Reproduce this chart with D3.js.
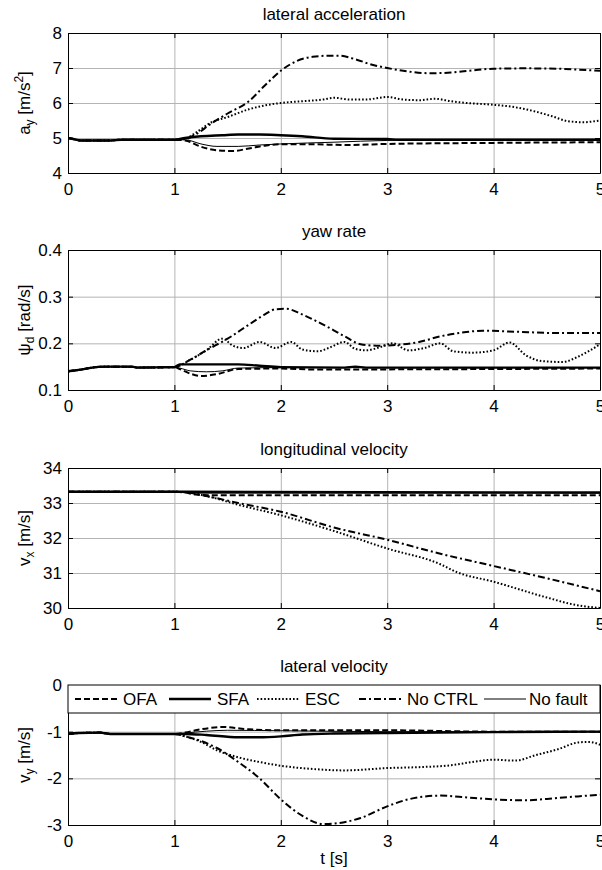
<!DOCTYPE html>
<html>
<head>
<meta charset="utf-8">
<script src="https://cdn.jsdelivr.net/npm/d3@7"></script>
<style>
  body { margin: 0; background: #fff; }
  svg { font-family: "Liberation Sans", Arial, sans-serif; display: block; }
</style>
</head>
<body>
<svg id="chart" width="602" height="870"></svg>
<script>
// time axis ticks shared by all panels
const timeTicks = [0, 1, 2, 3, 4, 5];

// lateral acceleration [m/s^2]
const ayTicks = [4, 5, 6, 7, 8];
const ayBase = [[0,5.0],[0.05,4.97],[0.12,4.93],[0.4,4.93],[0.5,4.95],[1.0,4.95]];
const ayOFA = [[1.1,4.93],[1.25,4.75],[1.4,4.65],[1.55,4.63],[1.7,4.7],[1.85,4.78],[2.0,4.82],[2.3,4.82],[2.6,4.8],[3.0,4.83],[4.0,4.86],[5.0,4.88]];
const aySFA = [[1.1,5.0],[1.25,5.05],[1.45,5.08],[1.6,5.1],[1.8,5.1],[2.0,5.08],[2.2,5.05],[2.5,4.98],[3.0,4.97],[3.1,4.95],[5.0,4.95]];
const ayESC = [[1.1,4.98],[1.2,5.15],[1.35,5.45],[1.5,5.6],[1.7,5.82],[1.85,5.93],[2.0,6.0],[2.2,6.05],[2.4,6.1],[2.5,6.15],[2.65,6.1],[2.8,6.1],[3.0,6.17],[3.15,6.1],[3.3,6.08],[3.45,6.12],[3.6,6.05],[3.75,6.0],[4.0,5.95],[4.2,5.88],[4.4,5.75],[4.55,5.62],[4.7,5.48],[4.85,5.45],[4.95,5.48],[5.0,5.5]];
const ayNoCtrl = [[1.1,4.97],[1.2,5.1],[1.34,5.4],[1.5,5.7],[1.7,6.05],[1.85,6.5],[2.0,6.92],[2.15,7.2],[2.3,7.32],[2.45,7.35],[2.55,7.35],[2.7,7.25],[2.85,7.1],[3.0,7.0],[3.2,6.9],[3.4,6.85],[3.6,6.87],[3.8,6.93],[4.0,6.98],[4.3,6.99],[4.6,6.98],[4.8,6.95],[5.0,6.92]];
const ayNoFault = [[1.1,4.95],[1.25,4.83],[1.4,4.76],[1.6,4.76],[1.8,4.8],[2.0,4.83],[2.5,4.88],[3.0,4.93],[4.0,4.95],[5.0,4.96]];

// yaw rate [rad/s]
const yawTicks = [0.1, 0.2, 0.3, 0.4];
const yawBase = [[0,0.14],[0.1,0.143],[0.2,0.147],[0.35,0.15],[0.6,0.15],[0.65,0.148],[1.0,0.149]];
const yawOFA = [[1.05,0.145],[1.15,0.135],[1.25,0.13],[1.4,0.134],[1.6,0.145],[2.0,0.146],[2.3,0.144],[5.0,0.146]];
const yawSFA = [[1.05,0.155],[1.6,0.155],[1.8,0.152],[2.0,0.149],[2.6,0.148],[2.7,0.15],[2.8,0.148],[5.0,0.148]];
const yawESC = [[1.15,0.165],[1.3,0.185],[1.45,0.21],[1.55,0.195],[1.65,0.19],[1.8,0.203],[1.95,0.19],[2.1,0.203],[2.2,0.187],[2.35,0.183],[2.45,0.19],[2.6,0.203],[2.7,0.188],[2.8,0.185],[2.95,0.193],[3.05,0.2],[3.2,0.185],[3.35,0.19],[3.5,0.2],[3.62,0.183],[3.8,0.18],[4.0,0.185],[4.15,0.202],[4.3,0.175],[4.45,0.162],[4.65,0.16],[4.8,0.172],[5.0,0.198]];
const yawNoCtrl = [[1.15,0.165],[1.3,0.185],[1.5,0.21],[1.7,0.24],[1.85,0.262],[1.95,0.273],[2.05,0.274],[2.2,0.262],[2.4,0.24],[2.6,0.215],[2.75,0.198],[2.9,0.195],[3.1,0.197],[3.3,0.203],[3.5,0.215],[3.7,0.223],[3.9,0.227],[4.2,0.225],[4.6,0.222],[5.0,0.222]];
const yawNoFault = [[1.05,0.147],[1.15,0.141],[1.3,0.139],[1.45,0.141],[1.6,0.147],[2.0,0.148],[5.0,0.148]];

// longitudinal velocity [m/s]
const vxTicks = [30, 31, 32, 33, 34];
const vxBase = [[0,33.32],[1.0,33.32]];
const vxOFA = [[1.1,33.3],[1.2,33.24],[1.35,33.22],[5.0,33.22]];
const vxSFA = [[1.1,33.32],[5.0,33.3]];
const vxESC = [[1.1,33.31],[1.3,33.2],[1.6,32.95],[2.0,32.65],[2.5,32.2],[3.0,31.7],[3.5,31.25],[3.65,31.03],[4.0,30.75],[4.5,30.3],[4.75,30.1],[5.0,30.0]];
const vxNoCtrl = [[1.1,33.31],[1.3,33.2],[1.6,33.0],[2.0,32.75],[2.5,32.3],[3.0,31.95],[3.5,31.55],[4.0,31.2],[4.5,30.85],[5.0,30.48]];
const vxNoFault = [[1.1,33.31],[1.2,33.28],[5.0,33.28]];

// lateral velocity [m/s]
const vyTicks = [-3, -2, -1, 0];
const vyBase = [[0,-1.05],[0.1,-1.03],[0.3,-1.02],[0.4,-1.05],[1.0,-1.05]];
const vyOFA = [[1.1,-1.02],[1.25,-0.95],[1.45,-0.9],[1.7,-0.95],[2.0,-0.97],[3.0,-0.97],[4.0,-1.0],[5.0,-1.0]];
const vySFA = [[1.1,-1.05],[1.3,-1.07],[1.6,-1.12],[1.8,-1.12],[2.0,-1.1],[2.2,-1.06],[2.5,-1.04],[3.0,-1.03],[4.0,-1.01],[5.0,-1.0]];
const vyESC = [[1.1,-1.1],[1.25,-1.22],[1.4,-1.4],[1.6,-1.55],[1.8,-1.65],[2.0,-1.73],[2.3,-1.8],[2.6,-1.83],[3.0,-1.78],[3.3,-1.76],[3.6,-1.72],[3.8,-1.65],[4.0,-1.6],[4.2,-1.62],[4.4,-1.5],[4.6,-1.38],[4.8,-1.23],[4.9,-1.22],[5.0,-1.28]];
const vyNoCtrl = [[1.1,-1.1],[1.25,-1.2],[1.4,-1.35],[1.6,-1.65],[1.8,-2.0],[2.0,-2.45],[2.2,-2.8],[2.4,-2.98],[2.5,-2.97],[2.75,-2.85],[3.0,-2.6],[3.2,-2.45],[3.5,-2.37],[3.7,-2.4],[4.0,-2.45],[4.3,-2.47],[4.6,-2.42],[5.0,-2.35]];
const vyNoFault = [[1.1,-1.03],[1.3,-0.99],[1.5,-0.97],[2.0,-0.98],[3.0,-1.0],[5.0,-1.0]];

const seriesNames = ["OFA", "SFA", "ESC", "No CTRL", "No fault"];
const styles = {
    "OFA":      {width: 2,   dash: "6,3"},
    "SFA":      {width: 2.4, dash: null},
    "ESC":      {width: 2,   dash: "1.6,2"},
    "No CTRL":  {width: 2,   dash: "7,3,2,3"},
    "No fault": {width: 1,   dash: null}
};

const panels = [
    {title: "lateral acceleration", label: ["a", "y", " [m/s", "2", "]"], ticks: ayTicks, base: ayBase,
     series: {"OFA": ayOFA, "SFA": aySFA, "ESC": ayESC, "No CTRL": ayNoCtrl, "No fault": ayNoFault}},
    {title: "yaw rate", label: ["ψ", "d", " [rad/s]"], ticks: yawTicks, base: yawBase,
     series: {"OFA": yawOFA, "SFA": yawSFA, "ESC": yawESC, "No CTRL": yawNoCtrl, "No fault": yawNoFault}},
    {title: "longitudinal velocity", label: ["v", "x", " [m/s]"], ticks: vxTicks, base: vxBase,
     series: {"OFA": vxOFA, "SFA": vxSFA, "ESC": vxESC, "No CTRL": vxNoCtrl, "No fault": vxNoFault}},
    {title: "lateral velocity", label: ["v", "y", " [m/s]"], ticks: vyTicks, base: vyBase,
     series: {"OFA": vyOFA, "SFA": vySFA, "ESC": vyESC, "No CTRL": vyNoCtrl, "No fault": vyNoFault}, legend: true}
];

const svg = d3.select("#chart");
const left = 68, right = 600, plotH = 140;
const tops = [33, 250, 468, 685];
const fontSize = "17px";

const x = d3.scaleLinear().domain([0, 5]).range([left, right]);

panels.forEach((p, i) => {
    let top = tops[i], bottom = top + plotH;
    let y = d3.scaleLinear().domain(d3.extent(p.ticks)).range([bottom, top]);
    let g = svg.append("g");

    // grid
    g.append("g").attr("class", "grid").attr("transform", `translate(0,${bottom})`)
        .call(d3.axisBottom(x).tickValues(timeTicks.slice(1, -1)).tickSize(-plotH).tickFormat(""));
    g.append("g").attr("class", "grid").attr("transform", `translate(${left},0)`)
        .call(d3.axisLeft(y).tickValues(p.ticks.slice(1, -1)).tickSize(-(right - left)).tickFormat(""));
    g.selectAll(".grid .domain").remove();
    g.selectAll(".grid line").attr("stroke", "#b4b4b4").attr("stroke-width", 1);

    svg.append("clipPath").attr("id", "clip" + i)
        .append("rect").attr("x", left).attr("y", top).attr("width", right - left).attr("height", plotH);

    let line = d3.line()
        .x(d => x(d[0]))
        .y(d => y(d[1]))
        .curve(d3.curveMonotoneX);

    let lines = g.append("g").attr("clip-path", `url(#clip${i})`);
    ["No fault", "OFA", "ESC", "No CTRL", "SFA"].forEach(name => {
        let st = styles[name];
        lines.append("path")
            .datum(p.base.concat(p.series[name]))
            .attr("fill", "none")
            .attr("stroke", "#000")
            .attr("stroke-width", st.width)
            .attr("stroke-dasharray", st.dash)
            .attr("stroke-linejoin", "round")
            .attr("d", line);
    });

    // box axes, ticks pointing inward
    let ax = g.append("g").attr("class", "box");
    ax.append("g").attr("transform", `translate(0,${bottom})`)
        .call(d3.axisBottom(x).tickValues(timeTicks).tickSize(-5).tickPadding(10).tickSizeOuter(0)
            .tickFormat(d3.format("d")));
    ax.append("g").attr("transform", `translate(0,${top})`)
        .call(d3.axisTop(x).tickValues(timeTicks).tickSize(-5).tickFormat("").tickSizeOuter(0));
    ax.append("g").attr("transform", `translate(${left},0)`)
        .call(d3.axisLeft(y).tickValues(p.ticks).tickSize(-5).tickPadding(6).tickSizeOuter(0)
            .tickFormat(d => d3.format("~g")(d).replace("−", "-")));
    ax.append("g").attr("transform", `translate(${right},0)`)
        .call(d3.axisRight(y).tickValues(p.ticks).tickSize(-5).tickFormat("").tickSizeOuter(0));
    ax.selectAll(".domain, .tick line").attr("stroke", "#000");
    ax.selectAll("g").attr("font-family", null).attr("font-size", null);
    ax.selectAll(".tick text").attr("fill", "#000").attr("font-size", fontSize);

    svg.append("text")
        .attr("x", (left + right) / 2).attr("y", top - 13)
        .attr("text-anchor", "middle").attr("font-size", fontSize)
        .text(p.title);

    // y label with sub/superscripts
    let yl = svg.append("text")
        .attr("transform", `translate(30,${(top + bottom) / 2}) rotate(-90)`)
        .attr("text-anchor", "middle").attr("font-size", fontSize);
    p.label.forEach((s, k) => {
        let ts = yl.append("tspan").text(s);
        if (k === 1) ts.attr("font-size", "12px").attr("dy", 4);
        if (k === 2) ts.attr("dy", -4);
        if (k === 3) ts.attr("font-size", "12px").attr("dy", -7);
        if (k === 4) ts.attr("dy", 7);
    });

    // horizontal legend across the top of the last panel
    if (p.legend) {
        let lgBottom = y(-0.6);
        let lg = svg.append("g");
        lg.append("rect").attr("x", left).attr("y", top).attr("width", right - left)
            .attr("height", lgBottom - top).attr("fill", "#fff").attr("stroke", "#000");
        let itemX = [75, 169, 257, 359, 484];
        let cy = (top + lgBottom) / 2;
        seriesNames.forEach((name, k) => {
            let st = styles[name];
            lg.append("line")
                .attr("x1", itemX[k]).attr("x2", itemX[k] + 42)
                .attr("y1", cy).attr("y2", cy)
                .attr("stroke", "#000").attr("stroke-width", st.width)
                .attr("stroke-dasharray", st.dash);
            lg.append("text")
                .attr("x", itemX[k] + (k === 4 ? 45 : 48)).attr("y", cy + 6)
                .attr("font-size", fontSize)
                .text(name);
        });
    }
});

svg.append("text")
    .attr("x", (left + right) / 2).attr("y", 864)
    .attr("text-anchor", "middle").attr("font-size", fontSize)
    .text("t [s]");
</script>
</body>
</html>
